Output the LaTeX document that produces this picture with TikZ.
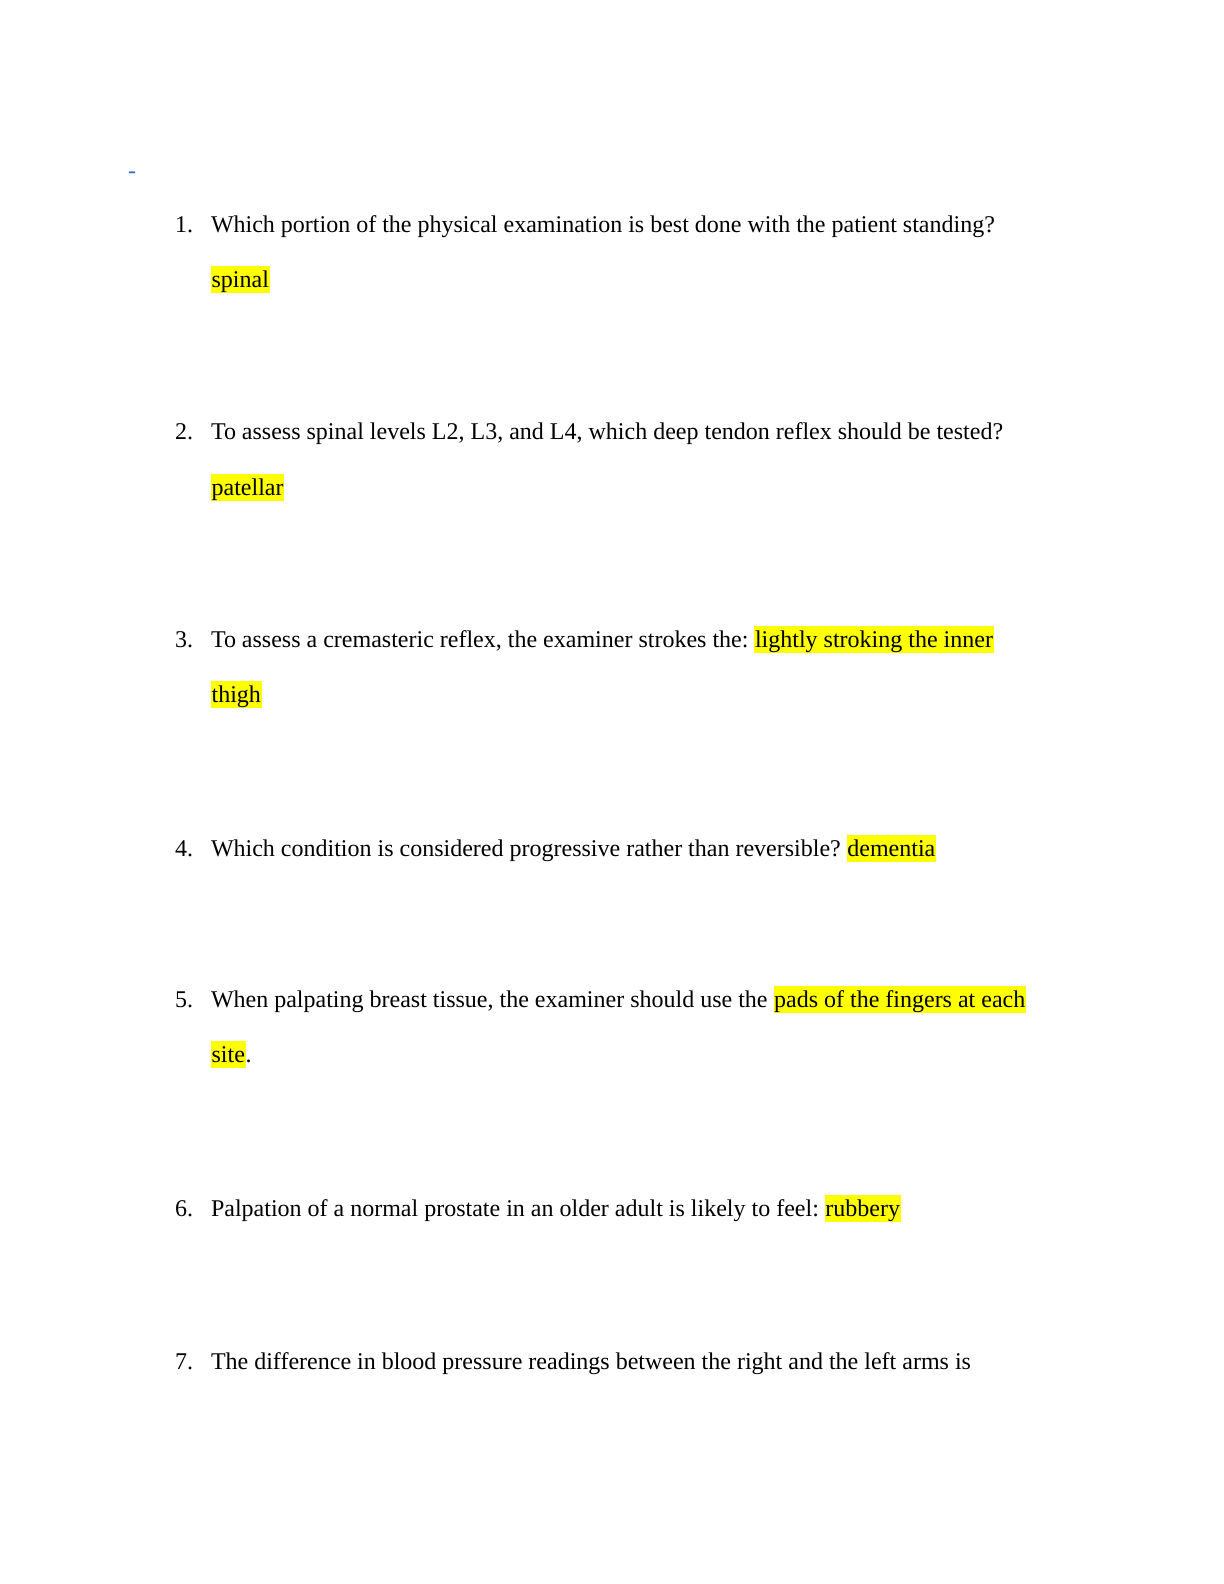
\documentclass[tikz,border=0pt]{standalone}
\usepackage{xcolor}
\usepackage{fontspec}
\setmainfont{Liberation Serif}
\usepackage{tikz}
\usetikzlibrary{positioning}

\definecolor{hlyellow}{RGB}{255,255,0}
\definecolor{dashblue}{RGB}{40,110,210}

\begin{document}
\begin{tikzpicture}[x=0.5pt, y=-0.5pt,
    every node/.style={inner sep=0pt, outer sep=0pt, font=\fontsize{12}{14}\selectfont},
    num/.style={anchor=base west},
    qtext/.style={anchor=base west},
    hl/.style={fill=hlyellow, text height=10.7pt, text depth=3.2pt, inner xsep=0.3pt}]
      \useasboundingbox[fill=white] (0, 0) rectangle (1224, 1584);
      \node[num, text=dashblue] (mark) at (128, 178) {-};
      % question 1
      \node[num] (n1) at (175, 232) {1.};
      \node[qtext] (q1) at (211, 232) {Which portion of the physical examination is best done with the patient standing?};
      \node[qtext, hl] (a1) at (211, 287) {spinal};
      % question 2
      \node[num] (n2) at (175, 439) {2.};
      \node[qtext] (q2) at (211, 439) {To assess spinal levels L2, L3, and L4, which deep tendon reflex should be tested?};
      \node[qtext, hl] (a2) at (211, 495) {patellar};
      % question 3
      \node[num] (n3) at (175, 647) {3.};
      \node[qtext] (q3) at (211, 647) {To assess a cremasteric reflex, the examiner strokes the:};
      \node[hl, base right=3pt of q3] (a3) {lightly stroking the inner};
      \node[qtext, hl] (a3b) at (211, 702) {thigh};
      % question 4
      \node[num] (n4) at (175, 856) {4.};
      \node[qtext] (q4) at (211, 856) {Which condition is considered progressive rather than reversible?};
      \node[hl, base right=3pt of q4] (a4) {dementia};
      % question 5
      \node[num] (n5) at (175, 1007) {5.};
      \node[qtext] (q5) at (211, 1007) {When palpating breast tissue, the examiner should use the};
      \node[hl, base right=3pt of q5] (a5) {pads of the fingers at each};
      \node[qtext, hl] (a5b) at (211, 1062) {site};
      \node[base right=0pt of a5b] (p5) {.};
      % question 6
      \node[num] (n6) at (175, 1216) {6.};
      \node[qtext] (q6) at (211, 1216) {Palpation of a normal prostate in an older adult is likely to feel:};
      \node[hl, base right=3pt of q6] (a6) {rubbery};
      % question 7
      \node[num] (n7) at (175, 1369) {7.};
      \node[qtext] (q7) at (211, 1369) {The difference in blood pressure readings between the right and the left arms is};
\end{tikzpicture}
\end{document}
